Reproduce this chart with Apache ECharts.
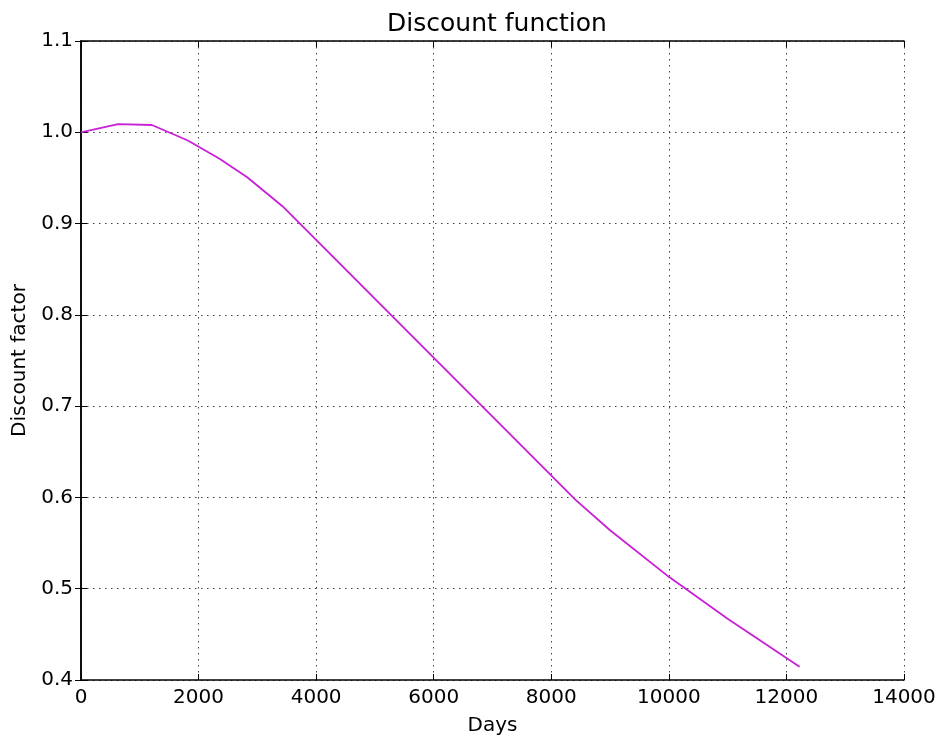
<!DOCTYPE html>
<html>
<head>
<meta charset="utf-8">
<script src="https://cdn.jsdelivr.net/npm/echarts@6/dist/echarts.min.js"></script>
<style>html,body{margin:0;padding:0;background:#fff;}#c{width:941px;height:741px;}</style>
</head>
<body>
<div id="c"></div>
<script>
var days = [0, 629, 1206, 1818, 2357, 2833, 3427, 8418, 9000, 10000, 11000, 12000, 12224];
var discount = [1.0, 1.009, 1.008, 0.991, 0.971, 0.9505, 0.919, 0.597, 0.564, 0.513, 0.467, 0.424, 0.4145];
var xTicks = [0, 14000, 2000];
var yTicks = [0.4, 1.1, 0.1];
var titleText = 'Discount function';
var xName = 'Days';
var yName = 'Discount factor';

var font = 'DejaVu Sans';
var chart = echarts.init(document.getElementById('c'), null, {renderer: 'canvas'});
var axisLine = {show: true, lineStyle: {color: '#000', width: 1.5}};
var tick = {show: true, inside: true, length: 6, lineStyle: {color: '#000', width: 1}};
var grid = {show: true, lineStyle: {color: '#222', type: [1.5, 4.5], width: 1, opacity: 0.85}};
chart.setOption({
  animation: false,
  backgroundColor: '#fff',
  title: {text: titleText, left: 492, top: 7, textAlign: 'center',
    textStyle: {fontFamily: font, fontSize: 25, fontWeight: 'normal', color: '#000'}},
  grid: {left: 81, right: 37, top: 41, bottom: 59, containLabel: false},
  xAxis: [{
    type: 'value', min: xTicks[0], max: xTicks[1], interval: xTicks[2], position: 'bottom',
    name: xName, nameLocation: 'middle', nameGap: 36,
    nameTextStyle: {fontFamily: font, fontSize: 20, color: '#000'},
    axisLine: axisLine, axisTick: tick, splitLine: grid,
    axisLabel: {fontFamily: font, fontSize: 20, color: '#000', margin: 8,
      formatter: function (v) { return String(v); }}
  }, {
    type: 'value', min: xTicks[0], max: xTicks[1], interval: xTicks[2], position: 'top',
    axisLine: axisLine, axisTick: tick, splitLine: {show: false}, axisLabel: {show: false}
  }],
  yAxis: [{
    type: 'value', min: yTicks[0], max: yTicks[1], interval: yTicks[2], position: 'left',
    name: yName, nameLocation: 'middle', nameGap: 51, nameRotate: 90,
    nameTextStyle: {fontFamily: font, fontSize: 20, color: '#000'},
    axisLine: axisLine, axisTick: tick, splitLine: grid,
    axisLabel: {fontFamily: font, fontSize: 20, color: '#000', margin: 8,
      formatter: function (v) { return v.toFixed(1); }}
  }, {
    type: 'value', min: yTicks[0], max: yTicks[1], interval: yTicks[2], position: 'right',
    axisLine: axisLine, axisTick: tick, splitLine: {show: false}, axisLabel: {show: false}
  }],
  series: [{
    type: 'line', xAxisIndex: 0, yAxisIndex: 0,
    data: days.map(function (d, i) { return [d, discount[i]]; }),
    showSymbol: false, symbol: 'none',
    lineStyle: {color: '#c91fd6', width: 1.8}
  }]
});
</script>
</body>
</html>
